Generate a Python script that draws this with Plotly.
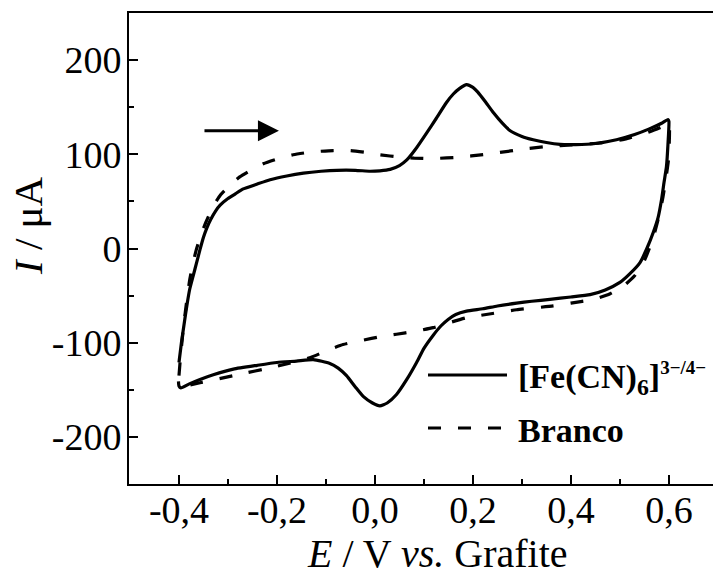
import plotly.graph_objects as go

# Cyclic voltammogram: potential E (V vs. graphite) and current I (µA)
fe_E = [-0.400, -0.395, -0.390, -0.384, -0.378, -0.371, -0.364, -0.357, -0.350, -0.343,
        -0.335, -0.325, -0.316, -0.300, -0.285, -0.270, -0.240, -0.214, -0.180, -0.146,
        -0.110, -0.078, -0.040, -0.010, 0.010, 0.031, 0.050, 0.065, 0.085, 0.106,
        0.125, 0.146, 0.160, 0.173, 0.187, 0.200, 0.210, 0.225, 0.242, 0.260,
        0.276, 0.300, 0.323, 0.350, 0.378, 0.410, 0.450, 0.493, 0.530, 0.560,
        0.585, 0.598, 0.600, 0.598, 0.595, 0.590, 0.585, 0.578, 0.568, 0.555,
        0.541, 0.520, 0.500, 0.470, 0.439, 0.400, 0.357, 0.320, 0.289, 0.250,
        0.220, 0.187, 0.165, 0.150, 0.135, 0.119, 0.100, 0.085, 0.065, 0.044,
        0.025, 0.010, -0.005, -0.024, -0.040, -0.058, -0.075, -0.092, -0.126, -0.160,
        -0.200, -0.240, -0.289, -0.330, -0.357, -0.380, -0.396, -0.400, -0.401]
fe_I = [-121, -100, -82, -61, -43, -29, -15, -1, 12, 22,
        31, 40, 46, 53, 58, 63, 68.5, 73, 77, 80,
        82, 83, 83, 82, 82.5, 84, 88, 94, 107, 123,
        138, 155, 164, 170, 174, 171, 166, 156, 144, 133,
        125, 119, 115.5, 112.5, 110.5, 110.3, 111.5, 115.5, 121, 127,
        133, 137, 135, 110, 87, 70, 52, 33, 17, 0,
        -15, -27, -36, -44, -49, -51.5, -54, -56, -58, -61,
        -64, -66.5, -70, -75, -82, -92, -106, -121, -139, -155,
        -164, -167, -164, -157, -147, -135, -127, -122, -118, -119.5,
        -121, -124, -128, -134, -139, -144, -148, -146, -141]

blank_E = [-0.400, -0.396, -0.390, -0.384, -0.378, -0.372, -0.365, -0.356, -0.345, -0.330,
           -0.315, -0.300, -0.276, -0.250, -0.228, -0.200, -0.167, -0.130, -0.085, -0.050,
           -0.017, 0.010, 0.051, 0.080, 0.119, 0.173, 0.221, 0.242, 0.310, 0.357,
           0.400, 0.459, 0.510, 0.561, 0.590, 0.600, 0.599, 0.594, 0.588, 0.580,
           0.571, 0.560, 0.548, 0.530, 0.507, 0.480, 0.446, 0.400, 0.364, 0.289,
           0.240, 0.187, 0.150, 0.119, 0.080, 0.044, 0.017, -0.031, -0.065, -0.092,
           -0.133, -0.200, -0.289, -0.357, -0.400]
blank_I = [-135, -110, -80, -55, -33, -17, -2, 13, 28, 45,
           57, 65, 76, 84, 90, 95, 99.5, 102.5, 104, 104,
           102, 99.5, 97, 96, 95.5, 97, 99.7, 101, 106, 108.5,
           110, 112, 116, 124, 130, 133, 94, 75, 55, 35,
           17, 0, -15, -29, -40, -48, -54, -58, -61, -65,
           -69, -73.5, -79, -84, -88, -91, -93, -98, -102, -107,
           -116, -125, -135, -142.5, -147.7]

x_tickvals = [-0.4, -0.2, 0.0, 0.2, 0.4, 0.6]
x_ticktext = ["-0,4", "-0,2", "0,0", "0,2", "0,4", "0,6"]
x_minor = [-0.5, -0.3, -0.1, 0.1, 0.3, 0.5]
y_tickvals = [-200, -100, 0, 100, 200]
y_ticktext = ["-200", "-100", "0", "100", "200"]
y_minor = [-150, -50, 50, 150]

series_names = [
    "<b>[Fe(CN)<sub>6</sub>]<sup><span style='font-size:19px'>3−/4−</span></sup></b>",
    "<b>Branco</b>",
]

FONT = "Liberation Serif, Times New Roman, serif"
W, H = 713, 577
ML, MR, MT, MB = 129, 0, 13, 93
PW, PH = W - ML - MR, H - MT - MB
DASH = "13px,17px"


def px(xp):
    return (xp - ML) / PW


def py(yp):
    return (H - MB - yp) / PH


fig = go.Figure()
fig.add_trace(go.Scatter(x=fe_E, y=fe_I, mode="lines", name=series_names[0],
                         line=dict(color="black", width=3.2, shape="spline", smoothing=0.5)))
fig.add_trace(go.Scatter(x=blank_E, y=blank_I, mode="lines", name=series_names[1],
                         line=dict(color="black", width=3.2, dash=DASH,
                                   shape="spline", smoothing=0.5)))

axis_common = dict(showline=True, linecolor="black", linewidth=2, showgrid=False,
                   zeroline=False, ticks="inside", ticklen=9, tickwidth=2, tickcolor="black",
                   tickfont=dict(family=FONT, size=38, color="black"))

fig.update_xaxes(range=[-0.502, 0.690], tickmode="array", tickvals=x_tickvals,
                 ticktext=x_ticktext, mirror=True, ticklabelstandoff=-9,
                 minor=dict(tickmode="array", tickvals=x_minor, ticks="inside",
                            ticklen=5, tickwidth=2, tickcolor="black"),
                 **axis_common)
fig.update_yaxes(range=[-250, 250], tickmode="array", tickvals=y_tickvals,
                 ticktext=y_ticktext, ticklabelstandoff=-2,
                 minor=dict(tickmode="array", tickvals=y_minor, ticks="inside",
                            ticklen=5, tickwidth=2, tickcolor="black"),
                 **axis_common)

# Legend drawn by hand so the line samples keep their long form
leg_x0, leg_x1, leg_tx = 428, 507, 516
leg_rows = [375, 428]
leg_text_rows = [378, 430]
for yy, dash in zip(leg_rows, ["solid", DASH]):
    fig.add_shape(type="line", xref="paper", yref="paper",
                  x0=px(leg_x0), x1=px(leg_x1), y0=py(yy), y1=py(yy),
                  line=dict(color="black", width=3.2, dash=dash))
for yy, name in zip(leg_text_rows, series_names):
    fig.add_annotation(xref="paper", yref="paper", x=px(leg_tx), y=py(yy),
                       text=name, showarrow=False, xanchor="left", yanchor="middle",
                       font=dict(family=FONT, size=34, color="black"))

# Sweep-direction arrow
fig.add_annotation(x=-0.196, y=125, ax=-0.351, ay=125, xref="x", yref="y",
                   axref="x", ayref="y", text="", showarrow=True,
                   arrowhead=2, arrowsize=1.4, arrowwidth=3, arrowcolor="black")

# Axis titles
fig.add_annotation(xref="paper", yref="paper", x=px(437), y=py(553),
                   text="<i>E</i> / V <i>vs.</i> Grafite", showarrow=False,
                   xanchor="center", yanchor="middle",
                   font=dict(family=FONT, size=40, color="black"))
fig.add_annotation(xref="paper", yref="paper", x=px(28), y=py(226),
                   text="<i>I</i> / μA", showarrow=False, textangle=-90,
                   xanchor="center", yanchor="middle",
                   font=dict(family=FONT, size=41, color="black"))

fig.update_layout(width=W, height=H, margin=dict(l=ML, r=MR, t=MT, b=MB),
                  paper_bgcolor="white", plot_bgcolor="white", showlegend=False,
                  font=dict(family=FONT, color="black"))

fig.write_html("out.html")
